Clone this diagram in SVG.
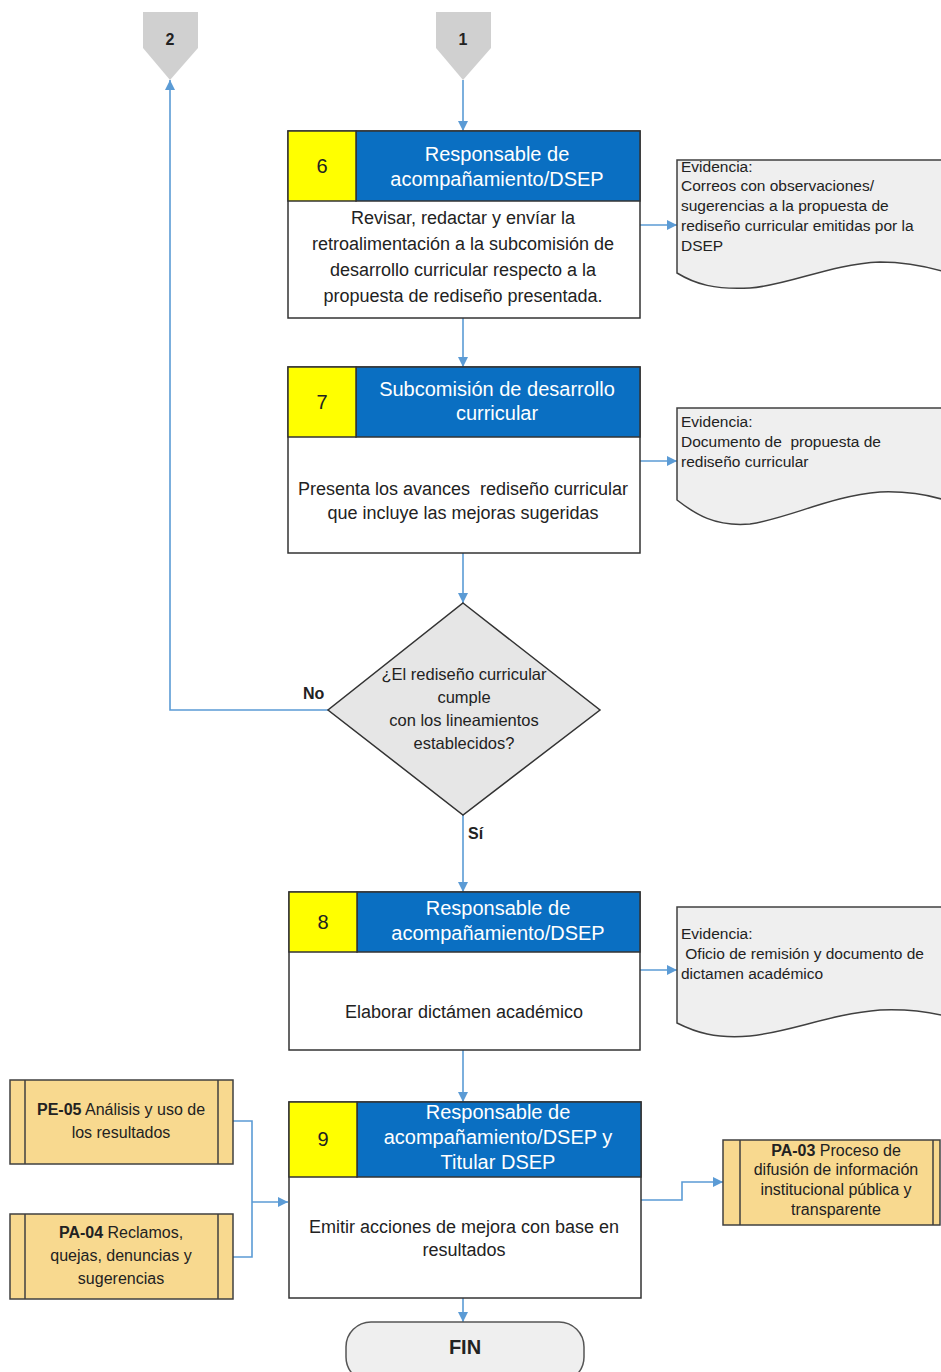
<svg xmlns="http://www.w3.org/2000/svg" width="941" height="1372" viewBox="0 0 941 1372">
<defs>
<style>
text{font-family:"Liberation Sans",Arial,sans-serif;}
.box{fill:#fff;stroke:#333;stroke-width:1.5;}
.hdr{fill:#0a6fc2;stroke:#333;stroke-width:1.5;}
.num{fill:#ffff00;stroke:#333;stroke-width:1.5;}
.ht{fill:#fff;font-size:20px;text-anchor:middle;}
.nt{fill:#222;font-size:20px;text-anchor:middle;}
.bt{fill:#222;font-size:18px;text-anchor:middle;}
.dt{fill:#222;font-size:16.5px;text-anchor:middle;}
.ev{fill:#efefef;stroke:#404040;stroke-width:1.5;}
.et{fill:#222;font-size:15.5px;}
.proc{fill:#f8d98f;stroke:#404040;stroke-width:1.5;}
.pt{fill:#222;font-size:16px;text-anchor:middle;}
.off{fill:#d0d0d0;}
.con{fill:none;stroke:#5b9bd5;stroke-width:1.6;}
.lbl{fill:#222;font-size:16px;font-weight:bold;}
</style>
<marker id="ah" viewBox="0 0 10 10" refX="10" refY="5" markerWidth="10" markerHeight="10" markerUnits="userSpaceOnUse" orient="auto">
<path d="M0,0 L10,5 L0,10 Z" fill="#5b9bd5"/>
</marker>
</defs>
<rect width="941" height="1372" fill="#fff"/>

<g id="connectors">
<path class="con" d="M463,80 V131" marker-end="url(#ah)"/>
<path class="con" d="M463,318 V367" marker-end="url(#ah)"/>
<path class="con" d="M463,553 V603" marker-end="url(#ah)"/>
<path class="con" d="M463,815 V892" marker-end="url(#ah)"/>
<path class="con" d="M463,1050 V1102" marker-end="url(#ah)"/>
<path class="con" d="M463,1298 V1322" marker-end="url(#ah)"/>
<path class="con" d="M328,710 H170 V80" marker-end="url(#ah)"/>
<path class="con" d="M640,225 H677" marker-end="url(#ah)"/>
<path class="con" d="M640,461 H677" marker-end="url(#ah)"/>
<path class="con" d="M640,970 H677" marker-end="url(#ah)"/>
<path class="con" d="M233,1121 H252 V1257 H233"/>
<path class="con" d="M252,1202 H288" marker-end="url(#ah)"/>
<path class="con" d="M641,1200 H682 V1182 H723" marker-end="url(#ah)"/>
<text class="lbl" x="303" y="699">No</text>
<text class="lbl" x="468" y="839">Sí</text>
</g>

<g id="off2">
<path class="off" d="M143,12 H198 V48 L170,80 L143,48 Z"/>
<text x="170" y="45" font-size="16" font-weight="bold" text-anchor="middle" fill="#222">2</text>
</g>
<g id="off1">
<path class="off" d="M436,12 H491 V48 L463,80 L436,48 Z"/>
<text x="463" y="45" font-size="16" font-weight="bold" text-anchor="middle" fill="#222">1</text>
</g>

<g id="step6">
<rect class="box" x="288" y="131" width="352" height="187"/>
<rect class="hdr" x="356" y="131" width="284" height="70"/>
<rect class="num" x="288" y="131" width="68" height="70"/>
<text class="nt" x="322" y="173">6</text>
<text class="ht" x="497" y="161">Responsable de</text>
<text class="ht" x="497" y="186">acompañamiento/DSEP</text>
<text class="bt" x="463" y="224">Revisar, redactar y envíar la</text>
<text class="bt" x="463" y="250">retroalimentación a la subcomisión de</text>
<text class="bt" x="463" y="276">desarrollo curricular respecto a la</text>
<text class="bt" x="463" y="302">propuesta de rediseño presentada.</text>
</g>

<g id="ev6">
<path class="ev" d="M677,160 H945 V272 C925,266 905,262 880,262 C830,264 790,285 750,288 C715,290 695,284 677,273 Z"/>
<text class="et" x="681" y="172">Evidencia:</text>
<text class="et" x="681" y="191">Correos con observaciones/</text>
<text class="et" x="681" y="211">sugerencias a la propuesta de</text>
<text class="et" x="681" y="231">rediseño curricular emitidas por la</text>
<text class="et" x="681" y="251">DSEP</text>
</g>

<g id="step7">
<rect class="box" x="288" y="367" width="352" height="186"/>
<rect class="hdr" x="356" y="367" width="284" height="70"/>
<rect class="num" x="288" y="367" width="68" height="70"/>
<text class="nt" x="322" y="409">7</text>
<text class="ht" x="497" y="396">Subcomisión de desarrollo</text>
<text class="ht" x="497" y="420">curricular</text>
<text class="bt" x="463" y="495" xml:space="preserve">Presenta los avances  rediseño curricular</text>
<text class="bt" x="463" y="519">que incluye las mejoras sugeridas</text>
</g>

<g id="ev7">
<path class="ev" d="M677,408 H945 V500 C925,494 905,491 880,492 C830,496 790,518 750,524 C715,527 695,514 677,500 Z"/>
<text class="et" x="681" y="427">Evidencia:</text>
<text class="et" x="681" y="447" xml:space="preserve">Documento de  propuesta de</text>
<text class="et" x="681" y="467">rediseño curricular</text>
</g>

<g id="decision">
<path d="M463,603 L600,710 L463,815 L328,710 Z" fill="#e6e6e6" stroke="#333" stroke-width="1.5"/>
<text class="dt" x="464" y="680">¿El rediseño curricular</text>
<text class="dt" x="464" y="703">cumple</text>
<text class="dt" x="464" y="726">con los lineamientos</text>
<text class="dt" x="464" y="749">establecidos?</text>
</g>

<g id="step8">
<rect class="box" x="289" y="892" width="351" height="158"/>
<rect class="hdr" x="357" y="892" width="283" height="60"/>
<rect class="num" x="289" y="892" width="68" height="60"/>
<text class="nt" x="323" y="929">8</text>
<text class="ht" x="498" y="915">Responsable de</text>
<text class="ht" x="498" y="940">acompañamiento/DSEP</text>
<text class="bt" x="464" y="1018">Elaborar dictámen académico</text>
</g>

<g id="ev8">
<path class="ev" d="M677,907 H945 V1016 C925,1011 905,1009 880,1010 C830,1014 790,1032 750,1036 C715,1039 695,1032 677,1023 Z"/>
<text class="et" x="681" y="939">Evidencia:</text>
<text class="et" x="681" y="959" xml:space="preserve"> Oficio de remisión y documento de</text>
<text class="et" x="681" y="979">dictamen académico</text>
</g>

<g id="step9">
<rect class="box" x="289" y="1102" width="352" height="196"/>
<rect class="hdr" x="357" y="1102" width="284" height="75"/>
<rect class="num" x="289" y="1102" width="68" height="75"/>
<text class="nt" x="323" y="1146">9</text>
<text class="ht" x="498" y="1119">Responsable de</text>
<text class="ht" x="498" y="1144">acompañamiento/DSEP y</text>
<text class="ht" x="498" y="1169">Titular DSEP</text>
<text class="bt" x="464" y="1233">Emitir acciones de mejora con base en</text>
<text class="bt" x="464" y="1256">resultados</text>
</g>

<g id="fin">
<rect x="346" y="1322" width="238" height="60" rx="25" fill="#efefef" stroke="#555" stroke-width="1.5"/>
<text x="465" y="1354" font-size="20" font-weight="bold" text-anchor="middle" fill="#222">FIN</text>
</g>

<g id="pe05">
<rect class="proc" x="10" y="1080" width="223" height="84"/>
<path d="M25,1080 V1164 M218,1080 V1164" stroke="#404040" stroke-width="1.5"/>
<text class="pt" x="121" y="1115"><tspan font-weight="bold">PE-05</tspan> Análisis y uso de</text>
<text class="pt" x="121" y="1138">los resultados</text>
</g>

<g id="pa04">
<rect class="proc" x="10" y="1214" width="223" height="85"/>
<path d="M25,1214 V1299 M218,1214 V1299" stroke="#404040" stroke-width="1.5"/>
<text class="pt" x="121" y="1238"><tspan font-weight="bold">PA-04</tspan> Reclamos,</text>
<text class="pt" x="121" y="1261">quejas, denuncias y</text>
<text class="pt" x="121" y="1284">sugerencias</text>
</g>

<g id="pa03">
<rect class="proc" x="723" y="1140" width="217" height="85"/>
<path d="M740,1140 V1225 M933,1140 V1225" stroke="#404040" stroke-width="1.5"/>
<text class="pt" x="836" y="1156" font-size="15.5"><tspan font-weight="bold">PA-03</tspan> Proceso de</text>
<text class="pt" x="836" y="1175" font-size="15.5">difusión de información</text>
<text class="pt" x="836" y="1195" font-size="15.5">institucional pública y</text>
<text class="pt" x="836" y="1215" font-size="15.5">transparente</text>
</g>
</svg>
